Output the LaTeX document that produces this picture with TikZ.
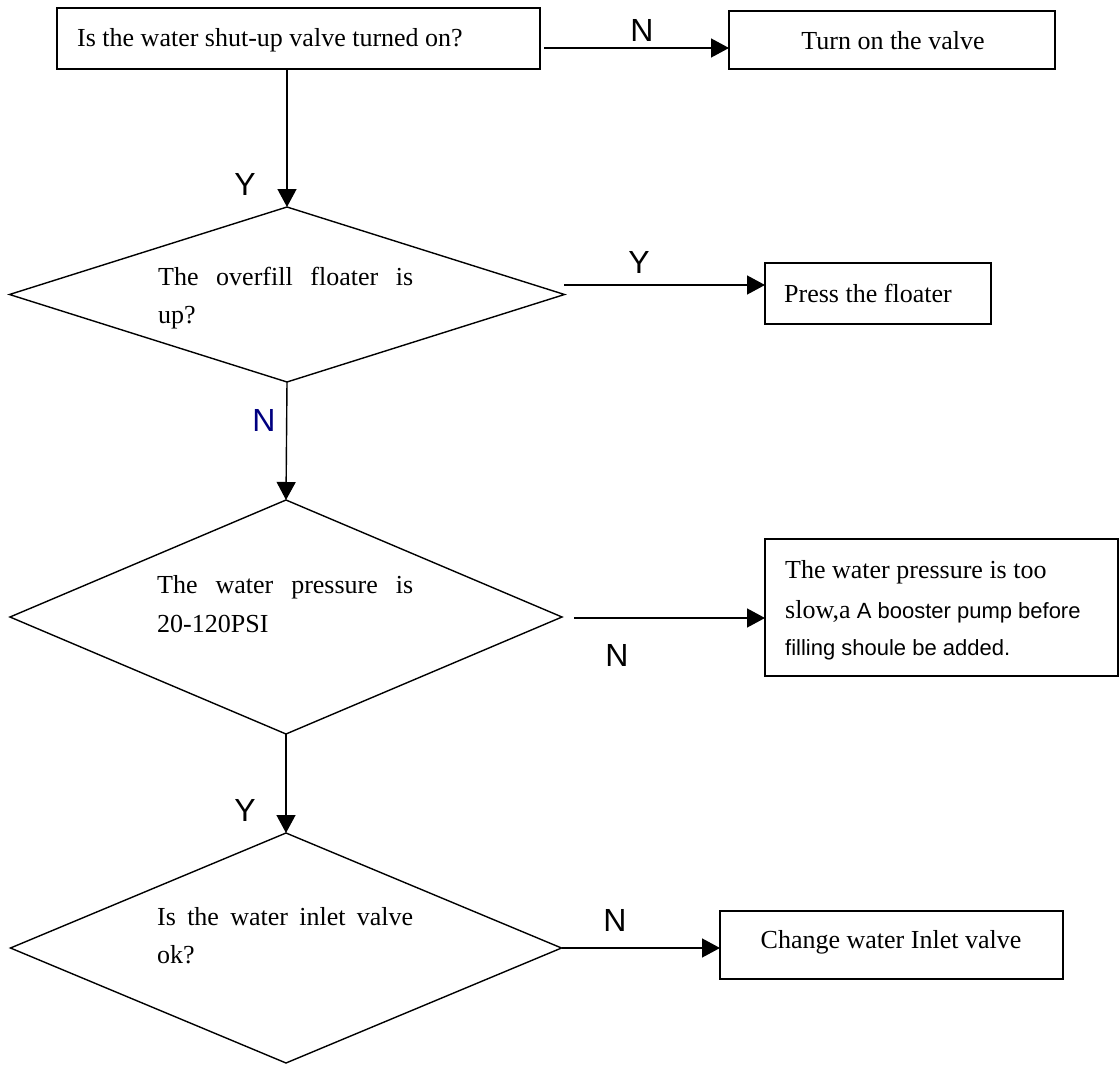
\documentclass[tikz,border=0pt]{standalone}
\usepackage{fontspec}
\setmainfont{Liberation Serif}
\newfontfamily\arialf{Liberation Sans}
\usetikzlibrary{shapes.geometric,arrows.meta}
\definecolor{navy}{RGB}{0,0,128}
\begin{document}
\begin{tikzpicture}[x=1pt,y=-1pt,
  boxn/.style={draw,line width=1.4pt,rectangle,inner sep=0pt,outer sep=0pt},
  dia/.style={draw,line width=1.4pt,diamond,inner sep=0pt,outer sep=0pt},
  arr/.style={line width=1.4pt,-{Triangle[length=18pt,width=19pt]}},
  tx/.style={inner sep=0pt,font=\fontsize{26pt}{30pt}\selectfont},
  yn/.style={inner sep=0pt,font=\arialf\fontsize{32pt}{36pt}\selectfont}]
\useasboundingbox (0,0) rectangle (1120,1065);
% boxes
\node[boxn,minimum width=483pt,minimum height=61pt] (b1) at (298.5,38.5) {};
\node[boxn,minimum width=326pt,minimum height=58pt] (b2) at (892,40) {};
\node[boxn,minimum width=226pt,minimum height=61pt] (b3) at (878,293.5) {};
\node[boxn,minimum width=353pt,minimum height=137pt] (b4) at (941.5,607.5) {};
\node[boxn,minimum width=343pt,minimum height=68pt] (b5) at (891.5,945) {};
% diamonds
\node[dia,minimum width=555pt,minimum height=175pt] (d1) at (287,294.5) {};
\node[dia,minimum width=552pt,minimum height=234pt] (d2) at (286,617) {};
\node[dia,minimum width=551pt,minimum height=230pt] (d3) at (286,948) {};
% texts
\node[tx,anchor=base west] (t1) at (77,47) {Is the water shut-up valve turned on?};
\node[tx,anchor=base] (t2) at (893,50) {Turn on the valve};
\node[tx,anchor=base west] (t3) at (784,302) {Press the floater};
\node[tx,anchor=base west] (t4a) at (158,285) {\makebox[255pt][s]{The overfill floater is}};
\node[tx,anchor=base west] (t4b) at (158,323) {up?};
\node[tx,anchor=base west] (t5a) at (157,593) {\makebox[256pt][s]{The water pressure is}};
\node[tx,anchor=base west] (t5b) at (157,632) {20-120PSI};
\node[tx,anchor=base west] (t6a) at (157,925) {\makebox[256pt][s]{Is the water inlet valve}};
\node[tx,anchor=base west] (t6b) at (157,963) {ok?};
\node[tx,anchor=base west] (t7a) at (785,578) {The water pressure is too};
\node[tx,anchor=base west] (t7b) at (785,618) {slow,a{\arialf\fontsize{22pt}{26pt}\selectfont\ A booster pump before}};
\node[tx,anchor=base west,font=\arialf\fontsize{22pt}{26pt}\selectfont] (t7c) at (785,655) {filling shoule be added.};
\node[tx,anchor=base] (t8) at (891,948) {Change water Inlet valve};
% connector start points
\coordinate (s1) at (544,48);
\coordinate (s3) at (564,285);
\coordinate (s5) at (574,618);
% connectors
\draw[arr] (s1) -- (s1 -| b2.west);
\draw[arr] (b1.south -| d1.north) -- (d1.north);
\draw[arr] (s3) -- (s3 -| b3.west);
\draw[arr] (d1.south) -- (d2.north);
\draw[arr] (s5) -- (s5 -| b4.west);
\draw[arr] (d2.south) -- (d3.north);
\draw[arr] (d3.east) -- (d3.east -| b5.west);
% labels
\node[yn] (l1) at (642,30) {N};
\node[yn] (l2) at (245,184) {Y};
\node[yn] (l3) at (639,262) {Y};
\node[yn,text=navy] (l4) at (264,420) {N};
\node[yn] (l5) at (617,655) {N};
\node[yn] (l6) at (245,810) {Y};
\node[yn] (l7) at (615,920) {N};
\end{tikzpicture}
\end{document}
